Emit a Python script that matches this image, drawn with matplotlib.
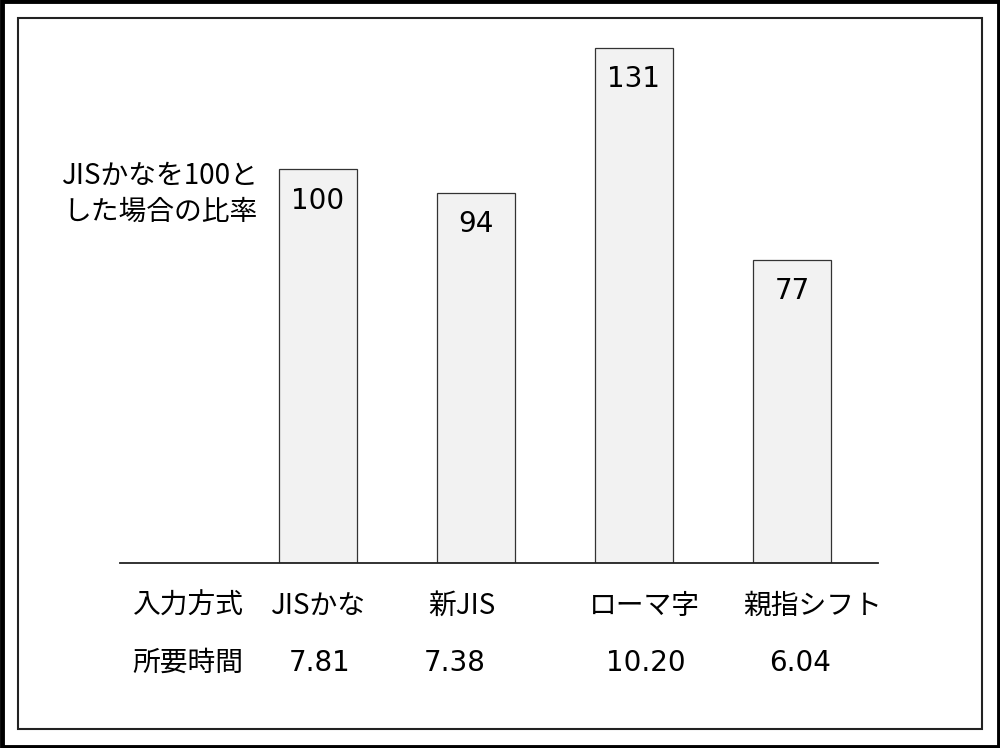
import matplotlib
matplotlib.use("Agg")
import matplotlib.pyplot as plt
from matplotlib.patches import Rectangle

# data
methods = ["JISかな", "新JIS", "ローマ字", "親指シフト"]
ratios = [100, 94, 131, 77]
times = ["7.81", "7.38", "10.20", "6.04"]
row_headers = ["入力方式", "所要時間"]
ylabel_text = "JISかなを100と\nした場合の比率"

jp = ['Noto Sans CJK JP', 'DejaVu Sans']
W, H = 1000, 748

fig = plt.figure(figsize=(10, 7.48), dpi=100)

# helper: pixel (from top-left) to figure fraction
def fx(px):
    return px / W

def fy(py):
    return 1 - py / H

# axes: baseline at y=563, from x=120 to 878
ax = fig.add_axes([fx(120), fy(563), fx(878) - fx(120), fy(30) - fy(563)])
pos = list(range(1, len(methods) + 1))
bars = ax.bar(pos, ratios, width=0.494, color='#f2f2f2', edgecolor='#333333', linewidth=0.9)
ax.set_xlim(1 - 198 / 158, 4 + 86 / 158)
ax.set_ylim(0, (563 - 30) / 3.935)

for b, v in zip(bars, ratios):
    ax.annotate(str(v), (b.get_x() + b.get_width() / 2, v), xytext=(0, -22.5),
                textcoords='offset points', ha='center', va='center',
                fontsize=20, family='DejaVu Sans')

for s in ['top', 'right', 'left']:
    ax.spines[s].set_visible(False)
ax.spines['bottom'].set_linewidth(1.3)
ax.spines['bottom'].set_color('#222222')
ax.set_xticks([])
ax.set_yticks([])
ax.patch.set_alpha(0)

# left label
fig.text(fx(258), fy(194), ylabel_text, ha='right', va='center', fontsize=20,
         family=jp, multialignment='right', linespacing=1.28)

# table under the chart
row1_x = [188, 318, 462, 644, 813]
row2_x = [188, 320, 455, 646, 800]
for x, t in zip(row1_x, [row_headers[0]] + methods):
    fig.text(fx(x), fy(606), t, ha='center', va='center', fontsize=20, family=jp)
fig.text(fx(row2_x[0]), fy(663), row_headers[1], ha='center', va='center', fontsize=20, family=jp)
for x, t in zip(row2_x[1:], times):
    fig.text(fx(x), fy(663), t, ha='center', va='center', fontsize=20, family='DejaVu Sans')

# frames
fig.add_artist(Rectangle((fx(17.5), fy(729)), fx(982) - fx(17.5), fy(17.5) - fy(729),
                         transform=fig.transFigure, fill=False, edgecolor='#222222', linewidth=1.5))
fig.add_artist(Rectangle((0.0015, 0.002), 0.997, 0.996, transform=fig.transFigure,
                         fill=False, edgecolor='black', linewidth=3.5))

fig.savefig("out.png", dpi=100)
